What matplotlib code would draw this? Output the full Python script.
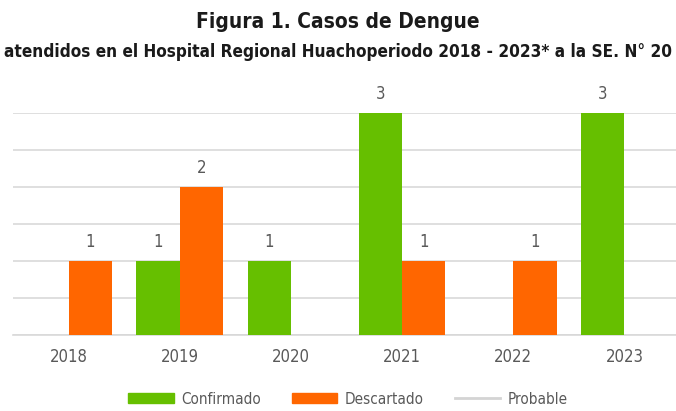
import matplotlib
matplotlib.use("Agg")
import matplotlib.pyplot as plt
import numpy as np
from matplotlib.lines import Line2D
from matplotlib.patches import Patch

years = ["2018", "2019", "2020", "2021", "2022", "2023"]
confirmado = [0, 1, 1, 3, 0, 3]
descartado = [1, 2, 0, 1, 1, 0]
probable = [0, 0, 0, 0, 0, 0]

GREEN = "#66bf00"
ORANGE = "#ff6600"
GRAY_LINE = "#d4d4d4"
TXT = "#595959"

plt.rcParams["font.family"] = ["DejaVu Sans"]
plt.rcParams["font.stretch"] = "condensed"

fig = plt.figure(figsize=(6.76, 4.11), dpi=100)
ax = fig.add_axes([13/676, (411-335)/411, (680-13)/676, (335-113)/411])

x = np.arange(len(years))
w = 0.39
b1 = ax.bar(x - w/2, confirmado, w, color=GREEN, zorder=3)
b2 = ax.bar(x + w/2, descartado, w, color=ORANGE, zorder=3)
ax.plot(x, probable, color=GRAY_LINE, lw=2, zorder=2)

for bars, vals in ((b1, confirmado), (b2, descartado)):
    for r, v in zip(bars, vals):
        if v:
            ax.text(r.get_x() + r.get_width()/2, v + 0.13, str(v), ha="center", va="bottom",
                    fontsize=12, color=TXT)

ax.set_ylim(0, 3)
ax.set_xlim(-0.5, 5.5)
ax.set_yticks(np.arange(0, 3.01, 0.5))
ax.yaxis.grid(True, color="#d9d9d9", lw=1.2, zorder=0)
ax.set_yticklabels([])
ax.tick_params(axis="y", length=0)
ax.tick_params(axis="x", length=0, pad=9, labelsize=12, labelcolor=TXT)
ax.set_xticks(x)
ax.set_xticklabels(years)
for s in ["top", "right", "left"]:
    ax.spines[s].set_visible(False)
ax.spines["bottom"].set_color("#d9d9d9")
ax.spines["bottom"].set_linewidth(1.2)

fig.text(0.5, 1 - 22/411, "Figura 1. Casos de Dengue", ha="center", va="center",
         fontsize=15, fontweight="bold", color="#1a1a1a")
fig.text(0.5, 1 - 52/411, "atendidos en el Hospital Regional Huachoperiodo 2018 - 2023* a la SE. N° 20",
         ha="center", va="center", fontsize=12.3, fontweight="bold", color="#1a1a1a")

handles = [Patch(color=GREEN), Patch(color=ORANGE), Line2D([0], [0], color=GRAY_LINE, lw=2)]
fig.legend(handles, ["Confirmado", "Descartado", "Probable"], loc="center",
           bbox_to_anchor=(348/676, 1 - 399/411), ncol=3, frameon=False,
           fontsize=11, labelcolor=TXT, handlelength=3, handleheight=0.6,
           columnspacing=2.0, handletextpad=0.5)

fig.savefig("out.png", dpi=100)
